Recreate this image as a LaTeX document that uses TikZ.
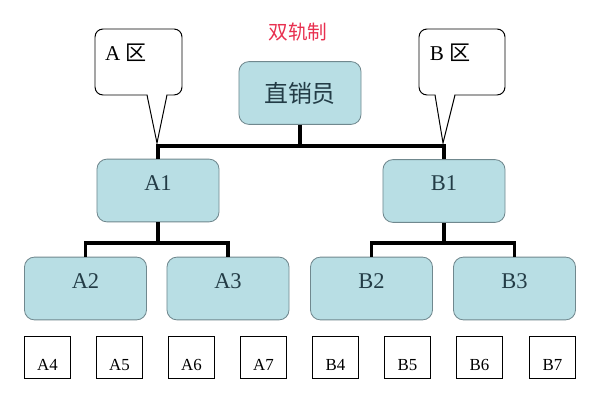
\documentclass[tikz,border=0pt]{standalone}
\usepackage{fontspec}
\setmainfont{Liberation Serif}
\newfontfamily\cjk{Noto Sans CJK SC}
\definecolor{boxfill}{RGB}{184,222,228}
\definecolor{boxline}{RGB}{112,136,142}
\definecolor{boxtext}{RGB}{35,60,70}
\definecolor{titlered}{RGB}{232,48,80}
\tikzset{
  unit/.style={draw=boxline, line width=0.6pt, fill=boxfill, rounded corners=0.25cm, minimum width=3.05cm, minimum height=1.57cm, inner sep=0pt, text=boxtext, font=\fontsize{16}{16}\selectfont, text height=0.3cm, text depth=0.3cm},
  leaf/.style={draw, line width=0.6pt, minimum width=1.17cm, minimum height=1.05cm, inner sep=0pt, font=\fontsize{12}{12}\selectfont, text height=0.65cm, text depth=0pt},
  conn/.style={line width=2.2pt},
  bubble/.style={draw, line width=0.7pt, fill=white, rounded corners=0.2cm}
}
\begin{document}
\begin{tikzpicture}[x=0.025cm, y=-0.025cm]
\useasboundingbox (0,0) rectangle (600,400);

% Title
\node[text=titlered, font=\cjk\fontsize{14}{14}\selectfont] (title) at (298,32) {双轨制};

% Callouts
\draw[bubble] (95,29) rectangle (182,95);
\fill[white] (147.3,93.5) -- (166.7,93.5) -- (157,143) -- cycle;
\draw[line width=0.7pt] (147,95) -- (157,143) -- (167,95);
\node[font=\fontsize{15}{15}\selectfont] (Azone) at (126,53) {A {\cjk 区}};
\draw[bubble] (419,29) rectangle (505,95);
\fill[white] (435.3,93.5) -- (454.7,93.5) -- (443,143) -- cycle;
\draw[line width=0.7pt] (435,95) -- (443,143) -- (455,95);
\node[font=\fontsize{15}{15}\selectfont] (Bzone) at (450,53) {B {\cjk 区}};

% Top level
\node[unit, font=\cjk\fontsize{17}{17}\selectfont, text height=, text depth=] (zx) at (300,93) {直销员};
\node[unit] (A1) at (158,190.5) {A1};
\node[unit] (B1) at (444,191) {B1};
\coordinate (top) at (300,146);
\draw[conn] (zx.south) -- (top);
\draw[conn] (A1.north) |- (top) -| (B1.north);

% Second level
\node[unit] (A2) at (85.5,288.5) {A2};
\node[unit] (A3) at (228,288.5) {A3};
\node[unit] (B2) at (371.5,288.5) {B2};
\node[unit] (B3) at (514.5,288.5) {B3};
\coordinate (Abar) at (158,243);
\coordinate (Bbar) at (444,243);
\draw[conn] (A1.south) -- (Abar);
\draw[conn] (A2.north) |- (Abar) -| (A3.north);
\draw[conn] (B1.south) -- (Bbar);
\draw[conn] (B2.north) |- (Bbar) -| (B3.north);

% Bottom boxes
\node[leaf] (A4) at (47.5,357) {A4};
\node[leaf] (A5) at (119.5,357) {A5};
\node[leaf] (A6) at (191.5,357) {A6};
\node[leaf] (A7) at (263.5,357) {A7};
\node[leaf] (B4) at (335.5,357) {B4};
\node[leaf] (B5) at (407.5,357) {B5};
\node[leaf] (B6) at (479.5,357) {B6};
\node[leaf] (B7) at (552.5,357) {B7};
\end{tikzpicture}
\end{document}
